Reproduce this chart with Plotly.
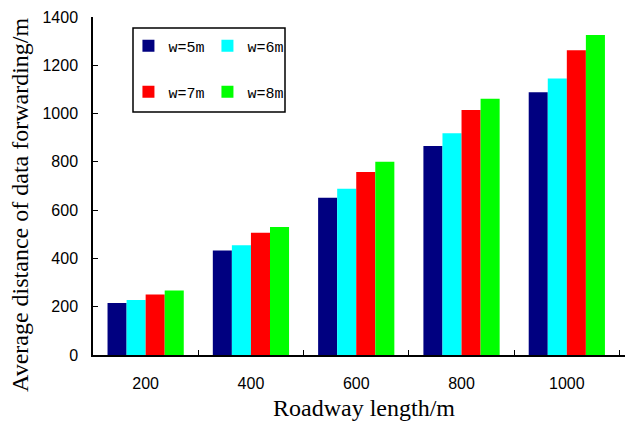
import plotly.graph_objects as go

categories = ["200", "400", "600", "800", "1000"]
series_names = ["w=5m", "w=6m", "w=7m", "w=8m"]
w5 = [215, 433, 651, 866, 1088]
w6 = [228, 455, 689, 918, 1145]
w7 = [251, 506, 758, 1015, 1262]
w8 = [267, 530, 800, 1061, 1325]
y_ticks = [0, 200, 400, 600, 800, 1000, 1200, 1400]
x_title = "Roadway length/m"
y_title = "Average distance of data forwarding/m"

values = [w5, w6, w7, w8]
colors = ["#000080", "#00FFFF", "#FF0000", "#00FF00"]
legend_ids = ["legend", "legend", "legend2", "legend2"]

fig = go.Figure()
for name, vals, col, lg in zip(series_names, values, colors, legend_ids):
    fig.add_trace(go.Bar(x=categories, y=vals, name=name, marker_color=col,
                         marker_line_width=0, legend=lg))

legend_common = dict(orientation="h", bgcolor="rgba(0,0,0,0)", borderwidth=0,
                     font=dict(family="Liberation Mono", size=15, color="#000"),
                     entrywidth=34, itemwidth=30, traceorder="normal",
                     xanchor="left", yanchor="middle", tracegroupgap=0)

title_font = dict(family="Liberation Serif", size=24, color="#000")

fig.update_layout(
    width=625, height=422,
    margin=dict(l=85, r=3, t=9, b=75, autoexpand=False),
    plot_bgcolor="white", paper_bgcolor="white",
    barmode="group", bargap=0.276, bargroupgap=0,
    legend=dict(x=0.066, y=0.914, **legend_common),
    legend2=dict(x=0.066, y=0.778, **legend_common),
    xaxis=dict(type="category", range=[-0.5, 4.6], showline=True, linecolor="#000",
               linewidth=1.5, ticks="inside", tickson="boundaries", ticklen=5,
               tickcolor="#000", showgrid=False, zeroline=False, automargin=False,
               tickfont=dict(family="Liberation Sans", size=16, color="#000"),
               ticklabelstandoff=13),
    yaxis=dict(range=[0, 1400], tickvals=y_ticks, showline=True, linecolor="#000",
               linewidth=1.5, ticks="inside", ticklen=5, tickcolor="#000",
               showgrid=False, zeroline=False, automargin=False,
               tickfont=dict(family="Liberation Sans", size=16, color="#000"),
               ticklabelstandoff=10),
    annotations=[
        dict(text=x_title, xref="paper", yref="paper", x=0.505, y=-0.157,
             xanchor="center", yanchor="middle", showarrow=False, font=title_font),
        dict(text=y_title, xref="paper", yref="paper", x=-0.136, y=0.444,
             xanchor="center", yanchor="middle", showarrow=False, textangle=-90,
             font=title_font),
    ],
    shapes=[dict(type="rect", xref="paper", yref="paper",
                 x0=(133 - 93) / 537, x1=(285 - 93) / 537,
                 y0=(355 - 112) / 338, y1=(355 - 28) / 338,
                 line=dict(color="#000", width=1.5), fillcolor="rgba(0,0,0,0)")],
)

fig.write_html("out.html")
